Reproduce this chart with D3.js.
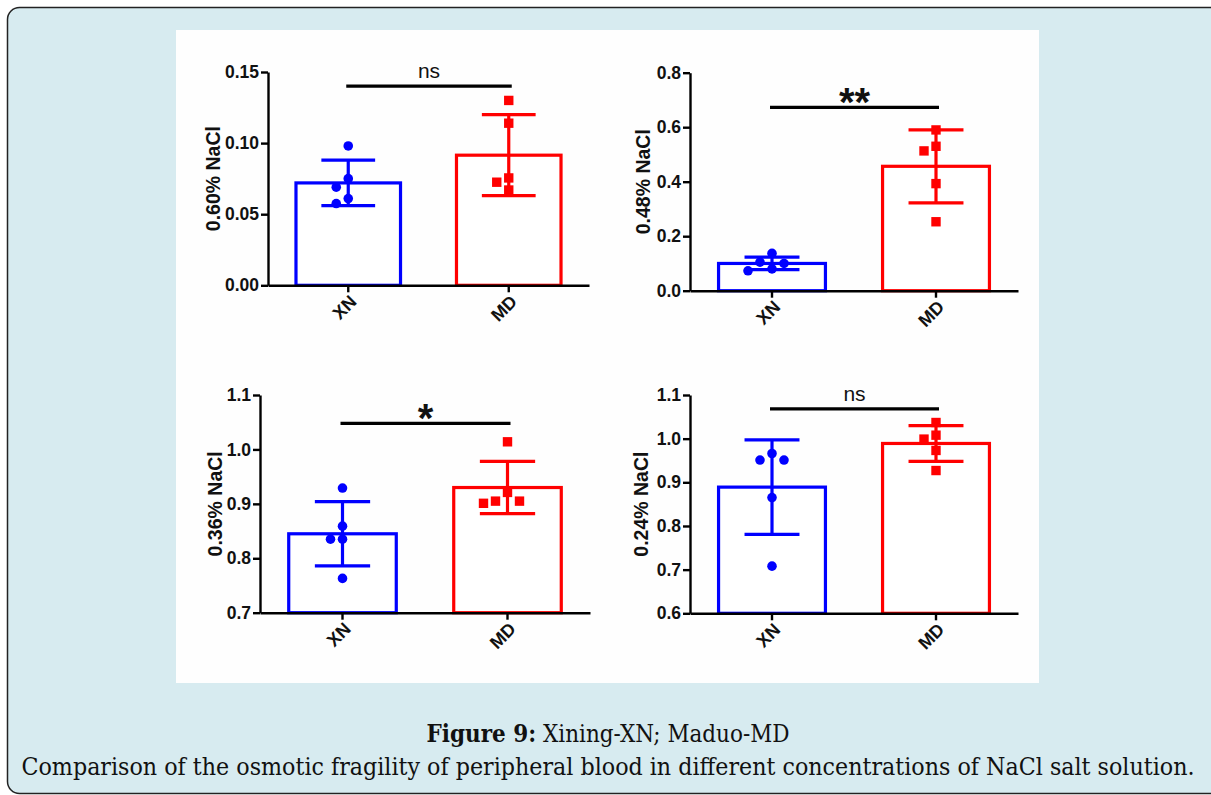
<!DOCTYPE html>
<html>
<head>
<meta charset="utf-8">
<script src="https://cdn.jsdelivr.net/npm/d3@7"></script>
<style>
  body { margin: 0; background: #fff; }
  svg { display: block; }
  .cap { font-family: 'DejaVu Serif', serif; font-stretch: condensed; }
</style>
</head>
<body>
<div id="chart"></div>
<script>
// values (mean, SD, individual animals)
var groups = ['XN', 'MD'];
var yLabels = ['0.60% NaCl', '0.48% NaCl', '0.36% NaCl', '0.24% NaCl'];
var xnMeans = [0.072, 0.100, 0.845, 0.889];
var xnSD = [0.016, 0.023, 0.059, 0.108];
var mdMeans = [0.0915, 0.4565, 0.930, 0.989];
var mdSD = [0.0285, 0.134, 0.048, 0.041];
var xnPoints = [[0.098, 0.075, 0.069, 0.061, 0.0575],
                [0.137, 0.100, 0.105, 0.073, 0.080],
                [0.929, 0.859, 0.835, 0.835, 0.763],
                [0.966, 0.951, 0.951, 0.865, 0.708]];
var mdPoints = [[0.130, 0.114, 0.0755, 0.0725, 0.067],
                [0.590, 0.530, 0.513, 0.393, 0.253],
                [1.014, 0.921, 0.905, 0.901, 0.905],
                [1.037, 1.008, 0.999, 0.973, 0.927]];
var sigLabels = ['ns', '**', '*', 'ns'];
var sigLevels = [0.140, 0.673, 1.048, 1.068];
var yDomains = [[0, 0.15], [0, 0.8], [0.7, 1.1], [0.6, 1.1]];
var yTicks = [[0, 0.05, 0.10, 0.15],
              [0, 0.2, 0.4, 0.6, 0.8],
              [0.7, 0.8, 0.9, 1.0, 1.1],
              [0.6, 0.7, 0.8, 0.9, 1.0, 1.1]];
var yFormats = ['.2f', '.1f', '.1f', '.1f'];

// where each panel sits on the page
var layout = [
  {left: 268, right: 589, top: 72, bottom: 285.3, labelX: 220},
  {left: 690, right: 1018, top: 72.7, bottom: 290.7, labelX: 650},
  {left: 260, right: 590, top: 395, bottom: 612.7, labelX: 221.5},
  {left: 690, right: 1018, top: 395, bottom: 613.3, labelX: 648}
];
var colors = {XN: '#0000ff', MD: '#ff0000'};
var sans = 'Liberation Sans, Arial, sans-serif';
var W = 1211, H = 795;

var svg = d3.select('#chart').append('svg')
  .attr('width', W).attr('height', H);

svg.append('rect')
  .attr('x', 7.5).attr('y', 7.5)
  .attr('width', 1215).attr('height', 786)
  .attr('rx', 12).attr('ry', 12)
  .attr('fill', '#d7ebf0')
  .attr('stroke', '#222').attr('stroke-width', 1.5);

svg.append('rect')
  .attr('x', 176).attr('y', 30)
  .attr('width', 863).attr('height', 653)
  .attr('fill', '#fefefe');

layout.forEach(function(L, i){ drawPanel(L, i); });

function dodge(vals, y, cx){
  // simple beeswarm so overlapping dots spread sideways
  var offsets = [0, -1, 1, -2, 2, -3, 3], spread = 12, minD = 11;
  var placed = [], out = [];
  var order = vals.map(function(v, j){ return j; })
                  .sort(function(a, b){ return vals[b] - vals[a]; });
  order.forEach(function(j){
    var py = y(vals[j]), px = cx;
    for (var k = 0; k < offsets.length; k++){
      px = cx + offsets[k] * spread;
      var ok = placed.every(function(p){ return Math.hypot(p[0] - px, p[1] - py) >= minD; });
      if (ok) break;
    }
    placed.push([px, py]);
    out[j] = {x: px, y: py, v: vals[j]};
  });
  return out;
}

function drawPanel(L, i){
  var g = svg.append('g');
  var y = d3.scaleLinear().domain(yDomains[i]).range([L.bottom, L.top]);
  var x = d3.scaleBand().domain(groups).range([L.left, L.right])
            .paddingInner(0.33).paddingOuter(0.165);
  var means = {XN: xnMeans[i], MD: mdMeans[i]};
  var sds = {XN: xnSD[i], MD: mdSD[i]};
  var pts = {XN: xnPoints[i], MD: mdPoints[i]};

  // bars
  g.selectAll('rect.bar')
    .data(groups)
    .enter()
    .append('rect')
    .attr('class', 'bar')
    .attr('x', function(d){ return x(d) + 1.5; })
    .attr('width', x.bandwidth() - 3)
    .attr('y', function(d){ return y(means[d]); })
    .attr('height', function(d){ return y(yDomains[i][0]) - y(means[d]); })
    .attr('fill', '#fff')
    .attr('stroke', function(d){ return colors[d]; })
    .attr('stroke-width', 3.2);

  // error bars (mean +/- SD)
  groups.forEach(function(d){
    var cx = x(d) + x.bandwidth() / 2, cap = x.bandwidth() / 4;
    var hi = y(means[d] + sds[d]), lo = y(means[d] - sds[d]);
    var eb = g.append('g').attr('stroke', colors[d]).attr('stroke-width', 3.2);
    eb.append('line').attr('x1', cx).attr('x2', cx).attr('y1', hi).attr('y2', lo);
    eb.append('line').attr('x1', cx - cap).attr('x2', cx + cap).attr('y1', hi).attr('y2', hi);
    eb.append('line').attr('x1', cx - cap).attr('x2', cx + cap).attr('y1', lo).attr('y2', lo);
  });

  // individual points
  var xnDots = dodge(pts.XN, y, x('XN') + x.bandwidth() / 2);
  g.selectAll('circle.xn')
    .data(xnDots)
    .enter()
    .append('circle')
    .attr('class', 'xn')
    .attr('cx', function(d){ return d.x; })
    .attr('cy', function(d){ return d.y; })
    .attr('r', 4.8)
    .attr('fill', colors.XN);
  var mdDots = dodge(pts.MD, y, x('MD') + x.bandwidth() / 2);
  g.selectAll('rect.md')
    .data(mdDots)
    .enter()
    .append('rect')
    .attr('class', 'md')
    .attr('x', function(d){ return d.x - 4.7; })
    .attr('y', function(d){ return d.y - 4.7; })
    .attr('width', 9.4).attr('height', 9.4)
    .attr('fill', colors.MD);

  // axes
  var yAxis = g.append('g')
    .attr('transform', 'translate(' + L.left + ',0)')
    .call(d3.axisLeft(y).tickValues(yTicks[i]).tickFormat(d3.format(yFormats[i]))
      .tickSize(7).tickSizeOuter(0).tickPadding(2));
  var xAxis = g.append('g')
    .attr('transform', 'translate(0,' + L.bottom + ')')
    .call(d3.axisBottom(x).tickSize(7).tickSizeOuter(0).tickFormat(''));
  [yAxis, xAxis].forEach(function(a){
    a.select('.domain').attr('stroke', '#000').attr('stroke-width', 2.4);
    a.selectAll('.tick line').attr('stroke', '#000').attr('stroke-width', 2.4);
  });
  yAxis.selectAll('.tick text')
    .attr('font-family', sans)
    .attr('font-weight', 'bold')
    .attr('font-size', 17.5)
    .attr('fill', '#111');

  g.selectAll('text.xlab')
    .data(groups)
    .enter()
    .append('text')
    .attr('class', 'xlab')
    .attr('transform', function(d){
      return 'translate(' + (x(d) + x.bandwidth() / 2 + 5) + ',' + (L.bottom + 13) + ') rotate(-45)';
    })
    .attr('text-anchor', 'end')
    .attr('dy', '0.35em')
    .attr('font-family', sans)
    .attr('font-weight', 'bold')
    .attr('font-size', 18)
    .attr('fill', '#111')
    .text(function(d){ return d; });

  g.append('text')
    .attr('transform', 'translate(' + L.labelX + ',' + ((L.top + L.bottom) / 2) + ') rotate(-90)')
    .attr('text-anchor', 'middle')
    .attr('font-family', sans)
    .attr('font-weight', 'bold')
    .attr('font-size', 19.5)
    .attr('fill', '#111')
    .text(yLabels[i]);

  // significance bracket
  var sy = y(sigLevels[i]);
  var x1 = x('XN') + x.bandwidth() / 2 - 2, x2 = x('MD') + x.bandwidth() / 2 + 3;
  g.append('line')
    .attr('x1', x1).attr('x2', x2).attr('y1', sy).attr('y2', sy)
    .attr('stroke', '#000').attr('stroke-width', 3.2);
  var isStar = sigLabels[i].indexOf('*') >= 0;
  g.append('text')
    .attr('x', (x1 + x2) / 2)
    .attr('y', isStar ? sy + 9 : sy - 8)
    .attr('text-anchor', 'middle')
    .attr('font-family', sans)
    .attr('font-weight', isStar ? 'bold' : 'normal')
    .attr('font-size', isStar ? 40 : 21)
    .attr('fill', '#111')
    .text(sigLabels[i]);
}

// caption
var cap1 = svg.append('text')
  .attr('class', 'cap')
  .attr('x', 608).attr('y', 742)
  .attr('text-anchor', 'middle')
  .attr('font-size', 25)
  .attr('fill', '#111')
  .attr('textLength', 363).attr('lengthAdjust', 'spacingAndGlyphs');
cap1.append('tspan').attr('font-weight', 'bold').text('Figure 9:');
cap1.append('tspan').text(' Xining-XN; Maduo-MD');

svg.append('text')
  .attr('class', 'cap')
  .attr('x', 608).attr('y', 775)
  .attr('text-anchor', 'middle')
  .attr('font-size', 25)
  .attr('fill', '#111')
  .attr('textLength', 1173).attr('lengthAdjust', 'spacingAndGlyphs')
  .text('Comparison of the osmotic fragility of peripheral blood in different concentrations of NaCl salt solution.');
</script>
</body>
</html>
